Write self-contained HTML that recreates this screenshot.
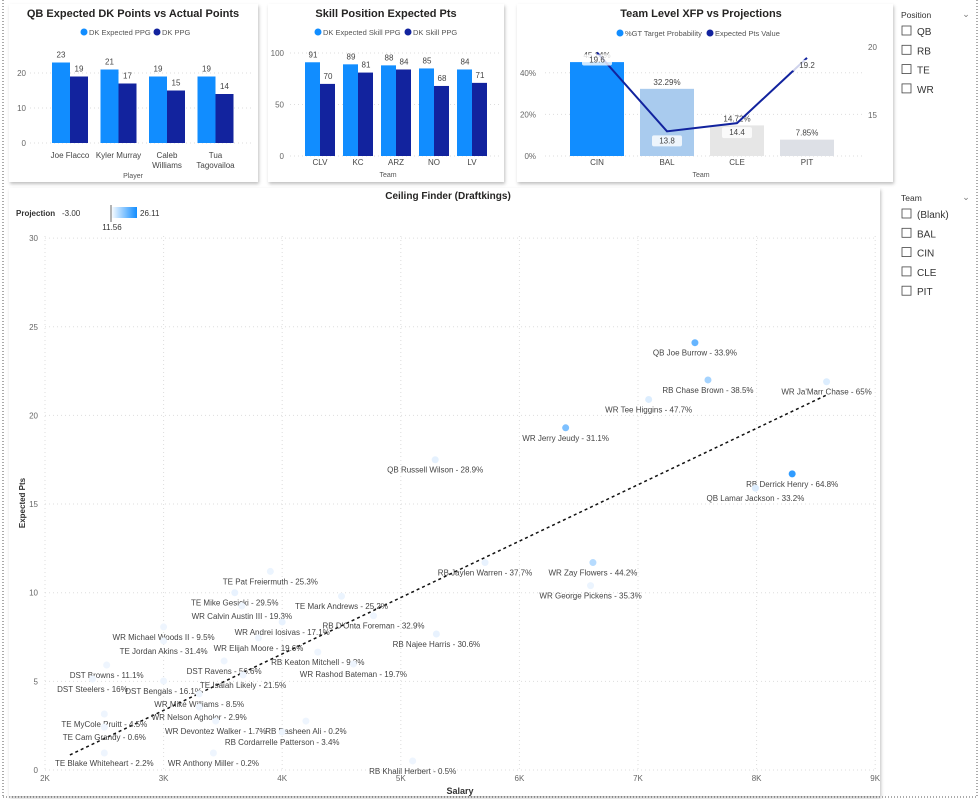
<!DOCTYPE html>
<html><head><meta charset="utf-8"><style>
body{margin:0;width:980px;height:799px;background:#fff;font-family:"Liberation Sans",sans-serif;overflow:hidden;position:relative}
svg{position:absolute;left:0;top:0}
text{font-family:"Liberation Sans",sans-serif}
</style></head><body>
<svg id="s" width="980" height="799">
<defs>
<filter id="sh" x="-5%" y="-5%" width="110%" height="110%"><feDropShadow dx="1" dy="2" stdDeviation="1.5" flood-color="#000" flood-opacity="0.25"/></filter>
<linearGradient id="grad" x1="0" x2="1"><stop offset="0" stop-color="#fff"/><stop offset="1" stop-color="#118DFF"/></linearGradient>
</defs>
<line x1="3" y1="0" x2="3" y2="797" stroke="#555" stroke-dasharray="1,2"/>
<line x1="977" y1="0" x2="977" y2="797" stroke="#555" stroke-dasharray="1,2"/>
<line x1="3" y1="797" x2="977" y2="797" stroke="#555" stroke-dasharray="1,2"/>
<rect x="9" y="4" width="249" height="178" fill="#fff" filter="url(#sh)"/>
<rect x="268" y="4" width="236" height="178" fill="#fff" filter="url(#sh)"/>
<rect x="517" y="4" width="376" height="178" fill="#fff" filter="url(#sh)"/>
<rect x="9" y="188" width="871" height="608" fill="#fff" filter="url(#sh)"/>
<g id="g"></g>
</svg>
<script>
// QB chart data
const qbPlayers=["Joe Flacco","Kyler Murray","Caleb|Williams","Tua|Tagovailoa"];
const qbExpected=[23,21,19,19];
const qbActual=[19,17,15,14];
const qbTicks=[0,10,20];
// Skill chart data
const skTeams=["CLV","KC","ARZ","NO","LV"];
const skExpected=[91,89,88,85,84];
const skActual=[70,81,84,68,71];
const skTicks=[0,50,100];
// Team chart data
const tmTeams=["CIN","BAL","CLE","PIT"];
const tmProb=[45.14,32.29,14.72,7.85];
const tmPts=[19.6,13.8,14.4,19.2];
const tmLeftTicks=[0,20,40];
const tmRightTicks=[15,20];
// Scatter data
const scNames=["QB Joe Burrow - 33.9%","RB Chase Brown - 38.5%","WR Ja'Marr Chase - 65%","WR Tee Higgins - 47.7%","WR Jerry Jeudy - 31.1%","QB Russell Wilson - 28.9%","RB Derrick Henry - 64.8%","QB Lamar Jackson - 33.2%","RB Jaylen Warren - 37.7%","WR Zay Flowers - 44.2%","WR George Pickens - 35.3%","TE Pat Freiermuth - 25.3%","TE Mike Gesicki - 29.5%","TE Mark Andrews - 25.2%","WR Calvin Austin III - 19.3%","RB D'Onta Foreman - 32.9%","WR Andrei Iosivas - 17.1%","RB Najee Harris - 30.6%","WR Michael Woods II - 9.5%","TE Jordan Akins - 31.4%","WR Elijah Moore - 19.6%","RB Keaton Mitchell - 9.3%","WR Rashod Bateman - 19.7%","DST Browns - 11.1%","DST Ravens - 56.6%","DST Steelers - 16%","DST Bengals - 16.1%","TE Isaiah Likely - 21.5%","WR Mike Williams - 8.5%","WR Nelson Agholor - 2.9%","TE MyCole Pruitt - 4.5%","WR Devontez Walker - 1.7%","RB Rasheen Ali - 0.2%","TE Cam Grandy - 0.6%","RB Cordarrelle Patterson - 3.4%","TE Blake Whiteheart - 2.2%","WR Anthony Miller - 0.2%","RB Khalil Herbert - 0.5%"];
const scSalary=[7.48,7.59,8.59,7.09,6.39,5.29,8.30,7.99,5.71,6.62,6.60,3.90,3.60,4.50,3.66,4.77,4.00,5.30,3.00,3.00,3.80,4.30,4.60,2.52,3.51,2.40,3.00,3.67,3.30,3.30,2.50,3.44,4.20,2.50,4.00,2.50,3.42,5.10];
const scPts=[24.1,22.0,21.9,20.9,19.3,17.5,16.7,15.9,11.7,11.7,10.4,11.2,10.0,9.8,9.25,8.7,8.35,7.67,8.07,7.28,7.45,6.65,5.98,5.92,6.15,5.13,5.02,5.36,4.29,3.55,3.16,2.76,2.76,2.42,2.14,0.96,0.96,0.51];
const scProj=[20,14,6,6,18,4,24,6,3,12,2,2,3,2,1,1,3,3,1,1,1,1,1,1,1,1,1,1,1,1,1,1,1,1,1,1,1,1];
const trendSalary=[2.21,8.59];
const trendPts=[0.85,21.15];
const scXTicks=[2,3,4,5,6,7,8,9];
const scYTicks=[0,5,10,15,20,25,30];

const g=document.getElementById('g');
const NS='http://www.w3.org/2000/svg';
function el(tag,attrs,txt){const e=document.createElementNS(NS,tag);for(const k in attrs)e.setAttribute(k,attrs[k]);if(txt!==undefined)e.textContent=txt;g.appendChild(e);return e;}
function txt(x,y,s,size,fill,anchor,weight){return el('text',{x:x,y:y,'font-size':size,fill:fill,'text-anchor':anchor||'middle','font-weight':weight||'normal'},s);}
const DARK='#12239E',LIGHT='#118DFF',GRID='#ddd',AX='#666';

// ===== QB chart =====
let t=txt(133,17,"QB Expected DK Points vs Actual Points",11,'#252423','middle','bold');


let c=el('circle',{cx:84,cy:32,r:3.5,fill:LIGHT});


txt(89,35,"DK Expected PPG",7.5,'#555','start');
c=el('circle',{cx:157,cy:32,r:3.5,fill:DARK});


txt(162,35,"DK PPG",7.5,'#555','start');
const qbY=v=>143-v*3.5;
qbTicks.forEach(v=>{const l=el('line',{x1:30,x2:252,y1:qbY(v),y2:qbY(v),stroke:GRID,'stroke-dasharray':'1,3'});


txt(26,qbY(v)+3,String(v),8,AX,'end');});
qbPlayers.forEach((p,i)=>{const cx=70+i*48.5;
let r=el('rect',{x:cx-18,y:qbY(qbExpected[i]),width:18,height:qbExpected[i]*3.5,fill:LIGHT});


r=el('rect',{x:cx,y:qbY(qbActual[i]),width:18,height:qbActual[i]*3.5,fill:DARK});


txt(cx-9,qbY(qbExpected[i])-5,String(qbExpected[i]),8,'#444');
txt(cx+9,qbY(qbActual[i])-5,String(qbActual[i]),8,'#444');
p.split('|').forEach((s,j)=>txt(cx,158+j*10,s,8,'#444'));});
txt(133,178,"Player",7,'#555');

// ===== Skill chart =====
t=txt(386,17,"Skill Position Expected Pts",11,'#252423','middle','bold');


c=el('circle',{cx:318,cy:32,r:3.5,fill:LIGHT});


txt(323,35,"DK Expected Skill PPG",7.5,'#555','start');
c=el('circle',{cx:408,cy:32,r:3.5,fill:DARK});


txt(413,35,"DK Skill PPG",7.5,'#555','start');
const skY=v=>156-v*1.03;
skTicks.forEach(v=>{const l=el('line',{x1:290,x2:500,y1:skY(v),y2:skY(v),stroke:GRID,'stroke-dasharray':'1,3'});


txt(284,skY(v)+3,String(v),8,AX,'end');});
skTeams.forEach((p,i)=>{const cx=320+i*38;
let r=el('rect',{x:cx-15,y:skY(skExpected[i]),width:15,height:skExpected[i]*1.03,fill:LIGHT});


r=el('rect',{x:cx,y:skY(skActual[i]),width:15,height:skActual[i]*1.03,fill:DARK});


txt(cx-7,skY(skExpected[i])-5,String(skExpected[i]),8,'#444');
txt(cx+8,skY(skActual[i])-5,String(skActual[i]),8,'#444');
txt(cx,165,p,8,'#444');});
txt(388,177,"Team",7,'#555');

// ===== Team chart =====
t=txt(701,17,"Team Level XFP vs Projections",11,'#252423','middle','bold');


c=el('circle',{cx:620,cy:33,r:3.5,fill:LIGHT});


txt(625,36,"%GT Target Probability",7.5,'#555','start');
c=el('circle',{cx:710,cy:33,r:3.5,fill:DARK});


txt(715,36,"Expected Pts Value",7.5,'#555','start');
const tL=v=>156-v*2.08, tR=v=>115-(v-15)*13.6;
tmLeftTicks.forEach(v=>{const l=el('line',{x1:545,x2:862,y1:tL(v),y2:tL(v),stroke:GRID,'stroke-dasharray':'1,3'});


txt(536,tL(v)+3,v+"%",8,AX,'end');});
tmRightTicks.forEach(v=>txt(868,tR(v)+3,String(v),8,AX,'start'));
const tmCols=['#118DFF','#A9CBEE','#E6E6E6','#DDE0E6'];
const pts=[];
tmTeams.forEach((p,i)=>{const cx=597+i*70;
const r=el('rect',{x:cx-27,y:tL(tmProb[i]),width:54,height:tmProb[i]*2.08,fill:tmCols[i]});


txt(cx,tL(tmProb[i])-4,tmProb[i].toFixed(2)+"%",8,'#444');
txt(cx,165,p,8,'#444');
pts.push(cx+','+tR(tmPts[i]));});
const pl=el('polyline',{points:pts.join(' '),fill:'none',stroke:DARK,'stroke-width':2});


tmTeams.forEach((p,i)=>{const cx=597+i*70,y=tR(tmPts[i])+(i===0||i===3?10:12);
const b=el('rect',{x:cx-15,y:y-8,width:30,height:11,rx:2,fill:'#fff','fill-opacity':0.8});


txt(cx,y,tmPts[i].toFixed(1),8,'#444');});
txt(701,177,"Team",7,'#555');

// ===== Slicers =====
t=txt(901,18,"Position",8.5,'#333','start');


txt(966,17,"⌄",9,'#777');
["QB","RB","TE","WR"].forEach((s,i)=>{const y=26+i*19.3;
const r=el('rect',{x:902,y:y,width:9,height:9,fill:'#fff',stroke:'#444','stroke-width':0.8});


txt(917,y+9,s,10,'#333','start');});
t=txt(901,201,"Team",8.5,'#333','start');


txt(966,200,"⌄",9,'#777');
["(Blank)","BAL","CIN","CLE","PIT"].forEach((s,i)=>{const y=209+i*19.3;
const r=el('rect',{x:902,y:y,width:9,height:9,fill:'#fff',stroke:'#444','stroke-width':0.8});


txt(917,y+9,s,10,'#333','start');});

// ===== Scatter =====
t=txt(448,199,"Ceiling Finder (Draftkings)",10,'#252423','middle','bold');


txt(16,216,"Projection",8,'#333','start','bold');
txt(62,216,"-3.00",8,'#333','start');
const gb=el('rect',{x:111,y:207,width:26,height:11,fill:'url(#grad)'});


txt(140,216,"26.11",8,'#333','start');
el('line',{x1:111,x2:111,y1:205,y2:222,stroke:'#444','stroke-width':0.8});
txt(112,230,"11.56",8,'#333');
const sx=v=>45+(v-2)*118.6, sy=v=>770-v*17.73;
scXTicks.forEach(v=>{const l=el('line',{x1:sx(v),x2:sx(v),y1:236,y2:770,stroke:GRID,'stroke-dasharray':'1,3'});


txt(sx(v),781,v+"K",8,AX);});
scYTicks.forEach(v=>{const l=el('line',{x1:45,x2:875,y1:sy(v),y2:sy(v),stroke:GRID,'stroke-dasharray':'1,3'});


txt(38,sy(v)+3,String(v),8,AX,'end');});
t=txt(460,794,"Salary",9,'#333','middle','bold');


t=el('text',{x:0,y:0,'font-size':8,fill:'#333','text-anchor':'middle','font-weight':'bold',transform:'translate(25,503) rotate(-90)'},"Expected Pts");


const tl=el('line',{x1:sx(trendSalary[0]),y1:sy(trendPts[0]),x2:sx(trendSalary[1]),y2:sy(trendPts[1]),stroke:'#111','stroke-width':1.5,'stroke-dasharray':'3,3'});


function col(p){let f=Math.max(0,Math.min(1,(p+3)/29.11));f=f*f;const a=[242,247,254],b=[17,141,255];return 'rgb('+a.map((v,i)=>Math.round(v+(b[i]-v)*f)).join(',')+')';}
scNames.forEach((n,i)=>{const x=sx(scSalary[i]),y=sy(scPts[i]);
const p=el('circle',{cx:x,cy:y,r:3.5,fill:col(scProj[i])});


txt(x,y+13,n,8,'#444');});
</script>
</body></html>
